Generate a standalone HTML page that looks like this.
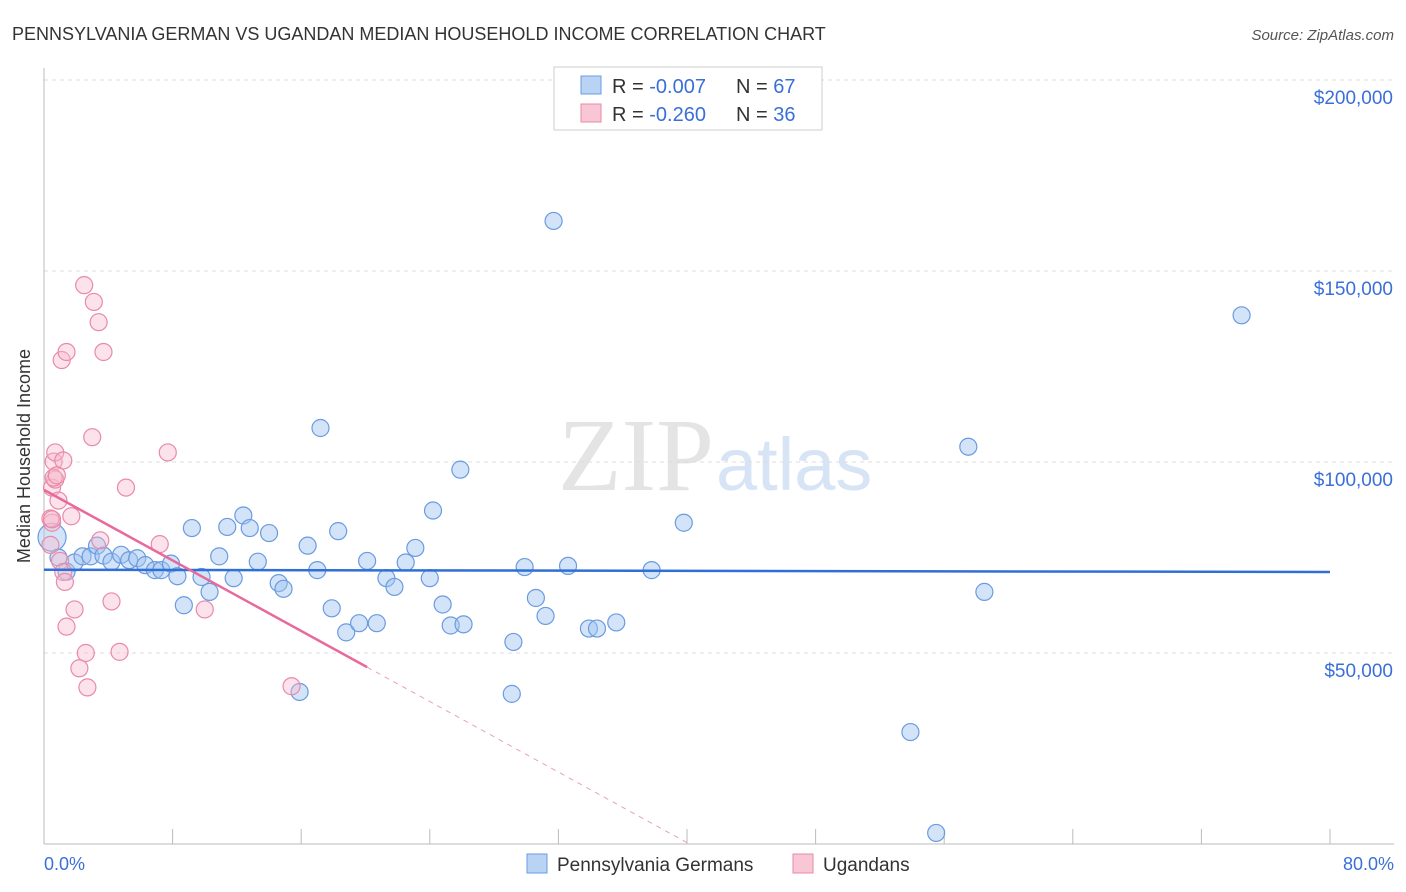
<!DOCTYPE html>
<html><head><meta charset="utf-8">
<style>
body{margin:0;background:#fff;font-family:"Liberation Sans",sans-serif;}
#wrap{position:relative;width:1406px;height:892px;overflow:hidden;}
</style></head>
<body>
<div id="wrap">
<svg id="svg" width="1406" height="892" xmlns="http://www.w3.org/2000/svg">
<text x="12" y="40" font-size="18" fill="#333">PENNSYLVANIA GERMAN VS UGANDAN MEDIAN HOUSEHOLD INCOME CORRELATION CHART</text>
<text x="1394" y="40" font-size="15" fill="#555" font-style="italic" text-anchor="end">Source: ZipAtlas.com</text>
<text x="714" y="490" font-size="104" fill="#e4e4e4" text-anchor="end" font-family="Liberation Serif">ZIP</text>
<text x="716" y="490" font-size="74" fill="#d6e4f5">atlas</text>
<g id="grid"></g>
<g id="marks"></g>
<text x="30" y="456" font-size="18" fill="#333" text-anchor="middle" transform="rotate(-90 30 456)">Median Household Income</text>
<text x="44" y="870" font-size="18" fill="#3a6fd8">0.0%</text>
<text x="1394" y="870" font-size="18" fill="#3a6fd8" text-anchor="end">80.0%</text>
<g>
<rect x="554" y="67" width="268" height="63" fill="#fff" stroke="#ccc"/>
<rect x="581" y="76" width="20" height="18" fill="#b9d3f4" stroke="#6a9be0"/>
<rect x="581" y="104" width="20" height="18" fill="#f9c6d6" stroke="#e88aa8"/>
<text x="612" y="93" font-size="20" fill="#333">R = <tspan fill="#3a6fd8">-0.007</tspan></text>
<text x="736" y="93" font-size="20" fill="#333">N = <tspan fill="#3a6fd8">67</tspan></text>
<text x="612" y="121" font-size="20" fill="#333">R = <tspan fill="#3a6fd8">-0.260</tspan></text>
<text x="736" y="121" font-size="20" fill="#333">N = <tspan fill="#3a6fd8">36</tspan></text>
</g>
<g>
<rect x="527" y="854" width="20" height="19" fill="#b9d3f4" stroke="#6a9be0"/>
<text x="557" y="871" font-size="19" fill="#333">Pennsylvania Germans</text>
<rect x="793" y="854" width="20" height="19" fill="#f9c6d6" stroke="#e88aa8"/>
<text x="823" y="871" font-size="19" fill="#333">Ugandans</text>
</g>
</svg>
</div>
<script>
const yTicks=[50000,100000,150000,200000];
const yTickLabels=["$50,000","$100,000","$150,000","$200,000"];
const xTicks=[0,8,16,24,32,40,48,56,64,72,80];
const blueX=[0.5,0.9,1.4,1.9,2.4,2.9,3.3,3.7,4.2,4.8,5.3,5.8,6.3,6.9,7.3,7.9,8.3,8.7,9.2,9.8,10.3,10.9,11.4,11.8,12.4,12.8,13.3,14.0,14.6,14.9,16.4,17.0,17.2,17.9,18.3,18.8,19.6,20.1,20.7,21.3,21.8,22.5,23.1,24.0,24.2,24.8,25.3,25.9,26.1,29.1,29.2,29.9,30.6,31.2,31.7,32.6,33.9,34.4,35.6,37.8,39.8,53.9,55.5,57.5,58.5,74.5,15.9];
const blueY=[80300,75000,71300,73700,75300,75300,78100,75500,73900,75700,74300,74800,73000,71700,71700,73400,70100,62500,82700,69900,66000,75300,83000,69600,86000,82700,73900,81400,68300,66800,78100,71700,108900,61700,81900,55400,57800,74100,57800,69600,67300,73700,77500,69600,87300,62700,57200,98000,57500,39300,52900,72500,64400,59700,163100,72800,56400,56400,58000,71700,84100,29300,2900,104000,66000,138400,39800];
const pinkX=[0.4,0.5,0.4,0.5,0.6,0.7,0.7,0.9,1.0,1.1,1.2,1.2,1.3,1.4,1.4,1.7,1.9,2.2,2.5,2.6,2.7,3.0,3.1,3.4,3.5,3.7,4.2,4.7,5.1,7.2,7.7,10.0,15.4,0.6,0.5,0.8];
const pinkY=[78300,84100,85200,93300,100100,102500,95400,89900,74100,126700,100400,71200,68600,56900,128800,85800,61400,46000,146300,50000,41000,106500,141900,136600,79500,128800,63500,50300,93300,78500,102500,61400,41300,95900,85000,96500];
const blueTrend=[71800,71200];
const pinkTrend=[92700,46300];
const pinkTrendX=[0,20.1];
const X=v=>44+v*1286/80;
const Y=v=>844-v*191/50000;
const NS="http://www.w3.org/2000/svg";
function mk(tag,attrs,parent){const e=document.createElementNS(NS,tag);for(const k in attrs)e.setAttribute(k,attrs[k]);parent.appendChild(e);return e;}
const grid=document.getElementById('grid'),marks=document.getElementById('marks');
yTicks.forEach((t,i)=>{
 const l=mk('line',{x1:44,x2:1394,y1:Y(t),y2:Y(t),stroke:'#ddd','stroke-dasharray':'4,4'},grid);
 
 
 const tx=mk('text',{x:1393,y:Y(t)+24,'font-size':19,fill:'#3a6fd8','text-anchor':'end'},grid);
 tx.textContent=yTickLabels[i];
 
 
});
const ax=mk('line',{x1:44,x2:44,y1:68,y2:844,stroke:'#bbb'},grid);


const bx=mk('line',{x1:44,x2:1394,y1:844,y2:844,stroke:'#bbb'},grid);


xTicks.forEach(t=>{
 const l=mk('line',{x1:X(t),x2:X(t),y1:829,y2:844,stroke:'#bbb'},grid);
 
 
});
blueX.forEach((x,i)=>{
 const c=mk('circle',{cx:X(x),cy:Y(blueY[i]),r:i==0?14:8.5,fill:'rgba(160,195,240,0.45)',stroke:'#6a9be0','stroke-width':1.2},marks);
 
 
});
pinkX.forEach((x,i)=>{
 const c=mk('circle',{cx:X(x),cy:Y(pinkY[i]),r:8.5,fill:'rgba(248,185,205,0.4)',stroke:'#e88aa8','stroke-width':1.2},marks);
 
 
});
const bt=mk('line',{x1:X(0),x2:X(80),y1:Y(blueTrend[0]),y2:Y(blueTrend[1]),stroke:'#2f6fd6','stroke-width':2.5},marks);


const slope=(pinkTrend[1]-pinkTrend[0])/(pinkTrendX[1]-pinkTrendX[0]);
const zeroX=pinkTrendX[0]-pinkTrend[0]/slope;
const pt=mk('line',{x1:X(pinkTrendX[0]),x2:X(pinkTrendX[1]),y1:Y(pinkTrend[0]),y2:Y(pinkTrend[1]),stroke:'#e8699a','stroke-width':2.5},marks);


const pd=mk('line',{x1:X(pinkTrendX[1]),x2:X(zeroX),y1:Y(pinkTrend[1]),y2:Y(0),stroke:'#e8a0bb','stroke-width':1,'stroke-dasharray':'5,5'},marks);


</script>
</body></html>
